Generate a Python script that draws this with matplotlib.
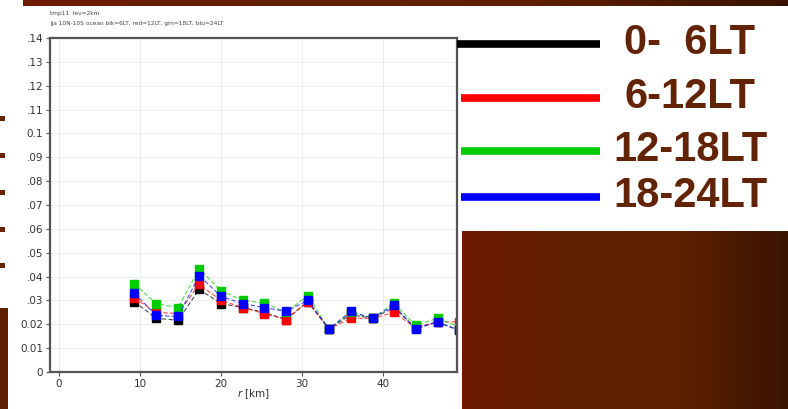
import numpy as np
import matplotlib
matplotlib.use("Agg")
import matplotlib.pyplot as plt
from matplotlib.colors import LinearSegmentedColormap

# ---- data ----
r_km = [9.3, 12.0, 14.7, 17.3, 20.0, 22.7, 25.3, 28.0, 30.7, 33.3, 36.0, 38.7, 41.3, 44.0, 46.7, 49.3]
lt_0_6 = [0.0295, 0.0225, 0.0217, 0.0346, 0.0287, 0.0270, 0.0250, 0.0220, 0.0295, 0.0180, 0.0240, 0.0225, 0.0270, 0.0185, 0.0210, 0.0175]
lt_6_12 = [0.0310, 0.0250, 0.0245, 0.0367, 0.0300, 0.0270, 0.0245, 0.0220, 0.0295, 0.0180, 0.0225, 0.0225, 0.0250, 0.0185, 0.0210, 0.0210]
lt_12_18 = [0.0370, 0.0287, 0.0270, 0.0433, 0.0340, 0.0300, 0.0290, 0.0250, 0.0320, 0.0180, 0.0250, 0.0225, 0.0288, 0.0196, 0.0225, 0.0190]
lt_18_24 = [0.0330, 0.0237, 0.0233, 0.0404, 0.0317, 0.0287, 0.0270, 0.0254, 0.0300, 0.0180, 0.0254, 0.0225, 0.0280, 0.0180, 0.0210, 0.0175]
series_names = ["0-  6LT", "6-12LT", "12-18LT", "18-24LT"]
series_colors = ["#000000", "#ff0000", "#00cc00", "#0000ff"]
x_ticks = [0, 10, 20, 30, 40]
y_ticks = [0, 0.01, 0.02, 0.03, 0.04, 0.05, 0.06, 0.07, 0.08, 0.09, 0.10, 0.11, 0.12, 0.13, 0.14]
y_tick_labels = ["0", "0.01", "0.02", ".03", ".04", ".05", ".06", ".07", ".08", ".09", "0.1", ".11", ".12", ".13", ".14"]
title_lines = ["tmp11  lev=2km", "jja 10N-10S ocean blk=6LT, red=12LT, grn=18LT, blu=24LT"]

W, H = 788, 409
fig = plt.figure(figsize=(W / 100, H / 100), dpi=100)
fig.patch.set_facecolor("white")

def px_axes(x0, y0, x1, y1, **kw):
    # pixel coords from top-left
    return fig.add_axes([x0 / W, 1 - y1 / H, (x1 - x0) / W, (y1 - y0) / H], **kw)

brown_cmap = LinearSegmentedColormap.from_list("br", ["#6e1a00", "#622000", "#5e2000", "#3a1402"])

# top brown band
ab = px_axes(23, 0, 788, 6)
ab.imshow(np.linspace(0, 1, 256)[None, :], aspect="auto", cmap=brown_cmap, extent=[0, 1, 0, 1])
ab.axis("off")

# bottom-right brown block
ab2 = px_axes(462, 231, 788, 409)
ab2.imshow(np.linspace(0, 1, 256)[None, :], aspect="auto", cmap=brown_cmap, extent=[0, 1, 0, 1])
ab2.axis("off")

# bottom-left brown block
ab3 = px_axes(0, 308, 8, 409)
ab3.set_facecolor("#5e2000")
ab3.set_xticks([]); ab3.set_yticks([])
for s in ab3.spines.values():
    s.set_visible(False)

# small bullets on the left
for yb in [118, 155, 192, 229, 265]:
    bb = px_axes(0, yb - 2.5, 5, yb + 2.5)
    bb.set_facecolor("#6a2200")
    bb.set_xticks([]); bb.set_yticks([])
    for s in bb.spines.values():
        s.set_visible(False)

# ---- main chart ----
ax = px_axes(50, 38, 457, 372)
for name, vals, col in zip(series_names, [lt_0_6, lt_6_12, lt_12_18, lt_18_24], series_colors):
    ax.plot(r_km, vals, color=col, lw=0.8, ls=(0, (4, 2)), alpha=0.7)
    ax.plot(r_km, vals, ls="none", marker="s", markersize=5.8, color=col, markeredgecolor=col)

ax.set_xlim(-1.1, 49.1)
ax.set_ylim(0, 0.14)
ax.set_xticks(x_ticks)
ax.set_xticklabels([str(t) for t in x_ticks], fontsize=7.5, color="#333333")
ax.set_yticks(y_ticks)
ax.set_yticklabels(y_tick_labels, fontsize=7.5, color="#333333")
ax.tick_params(direction="out", length=3, width=0.8, color="#555555", pad=2)
ax.grid(True, color="#ebebeb", lw=0.6)
for s in ax.spines.values():
    s.set_color("#555555")
    s.set_linewidth(1.6)
ax.set_xlabel(r"$r$ [km]", fontsize=7.5, color="#333333", labelpad=-1)

fig.text(50 / W, 1 - 14 / H, title_lines[0], fontsize=4.2, color="#444444", va="center")
fig.text(50 / W, 1 - 24 / H, title_lines[1], fontsize=4.2, color="#444444", va="center")

# ---- legend (slide style) ----
leg_y = [44, 98, 151, 197]
leg_x0 = [457, 461, 461, 461]
for name, col, yy, x0 in zip(series_names, series_colors, leg_y, leg_x0):
    fig.add_artist(plt.Line2D([x0 / W, 600 / W], [1 - yy / H, 1 - yy / H], color=col, lw=5.5,
                              transform=fig.transFigure, solid_capstyle="butt"))
    fig.text(690 / W, 1 - (yy - 1) / H, name, fontsize=30, fontweight="bold", color="#632306",
             ha="center", va="center", family="Liberation Sans")

fig.savefig("out.png", dpi=100)
